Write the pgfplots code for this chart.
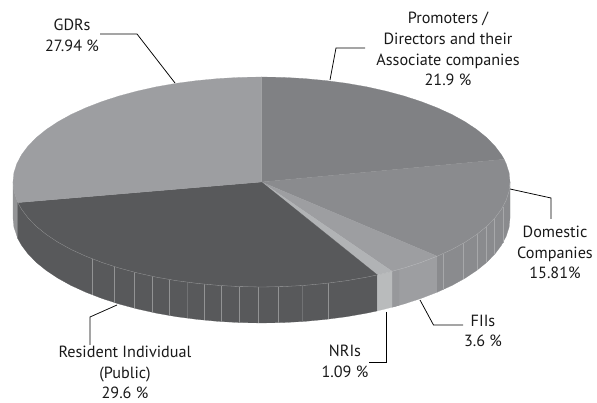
\documentclass[border=0pt]{standalone}
\usepackage{pgfplots}
\pgfplotsset{compat=1.18}
\usepackage{fontspec}
\setmainfont{PT Sans}
\definecolor{cgdr}{HTML}{9D9EA1}
\definecolor{cpro}{HTML}{808184}
\definecolor{cdom}{HTML}{8A8B8E}
\definecolor{cfii}{HTML}{9D9EA1}
\definecolor{cnri}{HTML}{B1B3B5}
\definecolor{cres}{HTML}{58595B}
\colorlet{fres}{cres!65!white}
\colorlet{fdom}{cdom!75!white}
\begin{document}
\begin{tikzpicture}
\path[use as bounding box] (0,0) rectangle (597pt,403pt);
\begin{axis}[
  at={(0,0)},anchor=south west,
  scale only axis,width=597pt,height=403pt,
  xmin=-261.5,xmax=335.5,ymin=-221,ymax=182,
  hide axis,no markers,clip=false,
]
% ---- side walls
\addplot[fill=cgdr!85!cres,draw=cgdr!85!cres,line width=0.2pt] coordinates {(-248.5,0) (-247.6,-9.2) (-243.7,-20.6) (-243.7,-56.6) (-247.6,-45.2) (-248.5,-36)} --cycle;
\addplot[fill=cres,draw=cres,line width=0.2pt] coordinates {(115.9,-92.9) (105,-95.2) (85,-98.7) (64.3,-101.4) (43.1,-103.4) (21.7,-104.6) (0,-105) (-21.7,-104.6) (-43.1,-103.4) (-64.3,-101.4) (-85,-98.7) (-105,-95.2) (-124.3,-90.9) (-142.5,-86) (-159.7,-80.4) (-175.7,-74.2) (-190.4,-67.5) (-203.6,-60.2) (-215.2,-52.5) (-225.2,-44.4) (-233.5,-35.9) (-240,-27.2) (-243.7,-20.6) (-243.7,-56.6) (-240,-63.2) (-233.5,-71.9) (-225.2,-80.4) (-215.2,-88.5) (-203.6,-96.2) (-190.4,-103.5) (-175.7,-110.2) (-159.7,-116.4) (-142.5,-122) (-124.3,-126.9) (-105,-131.2) (-85,-134.7) (-64.3,-137.4) (-43.1,-139.4) (-21.7,-140.6) (0,-141) (21.7,-140.6) (43.1,-139.4) (64.3,-137.4) (85,-134.7) (105,-131.2) (115.9,-128.9)} --cycle;
\addplot[fill=cnri!90!white,draw=cnri!90!white,line width=0.2pt] coordinates {(115.9,-92.9) (130.6,-89.3) (130.6,-125.3) (115.9,-128.9)} --cycle;
\addplot[fill=cfii,draw=cfii,line width=0.2pt] coordinates {(130.6,-89.3) (142.5,-86) (159.7,-80.4) (175.7,-74.2) (175.7,-110.2) (159.7,-116.4) (142.5,-122) (130.6,-125.3)} --cycle;
\addplot[fill=cfii!92!cres,draw=cfii!92!cres,line width=0.1pt] coordinates {(131.5,-89) (137.5,-87.4) (137.5,-123.4) (131.5,-125)} --cycle;
\addplot[fill=cdom,draw=cdom,line width=0.2pt] coordinates {(175.7,-74.2) (190.4,-67.5) (203.6,-60.2) (215.2,-52.5) (225.2,-44.4) (233.5,-35.9) (240,-27.2) (244.7,-18.2) (247.6,-9.2) (248.5,0) (248.5,-36) (247.6,-45.2) (244.7,-54.2) (240,-63.2) (233.5,-71.9) (225.2,-80.4) (215.2,-88.5) (203.6,-96.2) (190.4,-103.5) (175.7,-110.2)} --cycle;
% ---- facet lines on the walls (top, bottom)
\addplot[color=fres,line width=0.3pt] coordinates {(-169.2,-76.9) (-169.2,-112.9)};
\addplot[color=fres,line width=0.3pt] coordinates {(-147.2,-84.6) (-147.2,-120.6)};
\addplot[color=fres,line width=0.3pt] coordinates {(-127.2,-90.2) (-127.2,-126.2)};
\addplot[color=fres,line width=0.3pt] coordinates {(-109.2,-94.3) (-109.2,-130.3)};
\addplot[color=fres,line width=0.3pt] coordinates {(-92.2,-97.5) (-92.2,-133.5)};
\addplot[color=cres!85!white,line width=0.3pt] coordinates {(-74.2,-100.2) (-74.2,-136.2)};
\addplot[color=fres,line width=0.3pt] coordinates {(-57.5,-102.2) (-57.5,-138.2)};
\addplot[color=fres,line width=0.3pt] coordinates {(-40.2,-103.6) (-40.2,-139.6)};
\addplot[color=fres,line width=0.3pt] coordinates {(-22.2,-104.6) (-22.2,-140.6)};
\addplot[color=fres,line width=0.3pt] coordinates {(-3.2,-105) (-3.2,-141)};
\addplot[color=fres,line width=0.3pt] coordinates {(16.8,-104.8) (16.8,-140.8)};
\addplot[color=cres!85!white,line width=0.3pt] coordinates {(40.5,-103.5) (40.5,-139.5)};
\addplot[color=fres,line width=0.3pt] coordinates {(66.2,-101.2) (66.2,-137.2)};
\addplot[color=fdom,line width=0.3pt] coordinates {(181.8,-71.6) (181.8,-107.6)};
\addplot[color=fdom,line width=0.3pt] coordinates {(201.8,-61.3) (201.8,-97.3)};
\addplot[color=fdom,line width=0.3pt] coordinates {(215.2,-52.5) (215.2,-88.5)};
\addplot[color=fdom,line width=0.3pt] coordinates {(224.5,-45) (224.5,-81)};
\addplot[color=fdom,line width=0.3pt] coordinates {(232.5,-37.1) (232.5,-73.1)};
\addplot[color=fdom,line width=0.3pt] coordinates {(241.5,-24.8) (241.5,-60.8)};
% ---- top faces
\addplot[fill=cpro,draw=cpro,line width=0.2pt] coordinates {(0,0) (0,105) (21.7,104.6) (43.1,103.4) (64.3,101.4) (85,98.7) (105,95.2) (124.3,90.9) (142.5,86) (159.7,80.4) (175.7,74.2) (190.4,67.5) (203.6,60.2) (215.2,52.5) (225.2,44.4) (233.5,35.9) (240,27.2) (242.6,22.7)} --cycle;
\addplot[fill=cdom,draw=cdom,line width=0.2pt] coordinates {(0,0) (242.6,22.7) (244.7,18.2) (247.6,9.2) (248.5,0) (247.6,-9.2) (244.7,-18.2) (240,-27.2) (233.5,-35.9) (225.2,-44.4) (215.2,-52.5) (203.6,-60.2) (190.4,-67.5) (175.7,-74.2)} --cycle;
\addplot[fill=cfii,draw=cfii,line width=0.2pt] coordinates {(0,0) (175.7,-74.2) (159.7,-80.4) (142.5,-86) (130.6,-89.3)} --cycle;
\addplot[fill=cnri,draw=cnri,line width=0.2pt] coordinates {(0,0) (130.6,-89.3) (115.9,-92.9)} --cycle;
\addplot[fill=cres,draw=cres,line width=0.2pt] coordinates {(0,0) (115.9,-92.9) (105,-95.2) (85,-98.7) (64.3,-101.4) (43.1,-103.4) (21.7,-104.6) (0,-105) (-21.7,-104.6) (-43.1,-103.4) (-64.3,-101.4) (-85,-98.7) (-105,-95.2) (-124.3,-90.9) (-142.5,-86) (-159.7,-80.4) (-175.7,-74.2) (-190.4,-67.5) (-203.6,-60.2) (-215.2,-52.5) (-225.2,-44.4) (-233.5,-35.9) (-240,-27.2) (-243.7,-20.6)} --cycle;
\addplot[fill=cgdr,draw=cgdr,line width=0.2pt] coordinates {(0,0) (-243.7,-20.6) (-247.6,-9.2) (-248.5,0) (-247.6,9.2) (-244.7,18.2) (-240,27.2) (-233.5,35.9) (-225.2,44.4) (-215.2,52.5) (-203.6,60.2) (-190.4,67.5) (-175.7,74.2) (-159.7,80.4) (-142.5,86) (-124.3,90.9) (-105,95.2) (-85,98.7) (-64.3,101.4) (-43.1,103.4) (-21.7,104.6) (0,105)} --cycle;
% ---- light rim between top and wall
\addplot[color=fres,line width=0.3pt] coordinates {(115.9,-92.9) (105,-95.2) (85,-98.7) (64.3,-101.4) (43.1,-103.4) (21.7,-104.6) (0,-105) (-21.7,-104.6) (-43.1,-103.4) (-64.3,-101.4) (-85,-98.7) (-105,-95.2) (-124.3,-90.9) (-142.5,-86) (-159.7,-80.4) (-175.7,-74.2) (-190.4,-67.5) (-203.6,-60.2) (-215.2,-52.5) (-225.2,-44.4) (-233.5,-35.9) (-240,-27.2) (-243.7,-20.6)};
\addplot[color=cdom!70!white,line width=0.3pt] coordinates {(175.7,-74.2) (190.4,-67.5) (203.6,-60.2) (215.2,-52.5) (225.2,-44.4) (233.5,-35.9) (240,-27.2) (244.7,-18.2) (247.6,-9.2) (248.5,0)};
\addplot[color=cfii!70!white,line width=0.3pt] coordinates {(130.6,-89.3) (142.5,-86) (159.7,-80.4) (175.7,-74.2)};
% ---- leader lines
\addplot[black,line width=0.75pt] coordinates {(-161.5,148) (-124.5,148) (-86.5,99)};
\addplot[black,line width=0.75pt] coordinates {(103.5,134) (74.5,134) (68.5,102)};
\addplot[black,line width=0.75pt] coordinates {(248.5,-7) (289.5,-16) (289.5,-37)};
\addplot[black,line width=0.75pt] coordinates {(158.5,-118) (172,-143) (201.5,-143)};
\addplot[black,line width=0.75pt] coordinates {(125.2,-130) (125.2,-180.7) (107.5,-180.7)};
\addplot[black,line width=0.75pt] coordinates {(-144.5,-123) (-171.5,-135) (-171.5,-163)};
% ---- labels
\tikzset{lab/.style={align=center,inner sep=0pt,text=black!90,font=\fontsize{16.2}{20.8}\selectfont}}
\node[lab] at (axis cs:-189.5,146.5) {GDRs\\27.94 \%};
\node[lab] at (axis cs:186.5,133) {Promoters /\\Directors and their\\Associate companies\\21.9 \%};
\node[lab] at (axis cs:293.5,-70.5) {Domestic\\Companies\\15.81\%};
\node[lab] at (axis cs:221.5,-149) {FIIs\\3.6 \%};
\node[lab] at (axis cs:83.5,-179.5) {NRIs\\1.09 \%};
\node[lab] at (axis cs:-136.5,-190.5) {Resident Individual\\(Public)\\29.6 \%};
\end{axis}
\end{tikzpicture}
\end{document}
